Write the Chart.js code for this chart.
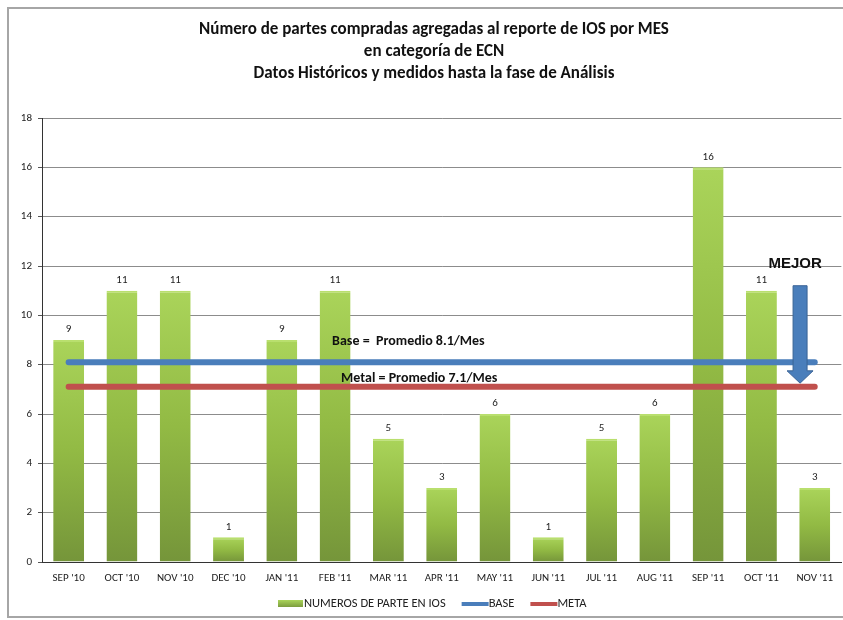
<!DOCTYPE html>
<html>
<head>
<meta charset="utf-8">
<script src="https://cdn.jsdelivr.net/npm/chart.js@4"></script>
<style>
  html, body { margin: 0; padding: 0; background: #fff; }
  #wrap { width: 843px; height: 620px; }
</style>
</head>
<body>
<div id="wrap"><canvas id="chart" width="843" height="620"></canvas></div>
<script>
const months = ["SEP '10", "OCT '10", "NOV '10", "DEC '10", "JAN '11", "FEB '11", "MAR '11", "APR '11",
                "MAY '11", "JUN '11", "JUL '11", "AUG '11", "SEP '11", "OCT '11", "NOV '11"];
const partes = [9, 11, 11, 1, 9, 11, 5, 3, 6, 1, 5, 6, 16, 11, 3];
const base = [8.1, 8.1, 8.1, 8.1, 8.1, 8.1, 8.1, 8.1, 8.1, 8.1, 8.1, 8.1, 8.1, 8.1, 8.1];
const meta = [7.1, 7.1, 7.1, 7.1, 7.1, 7.1, 7.1, 7.1, 7.1, 7.1, 7.1, 7.1, 7.1, 7.1, 7.1];
const titleLines = [
    'Número de partes compradas agregadas al reporte de IOS por MES',
    'en categoría de ECN',
    'Datos Históricos y medidos hasta la fase de Análisis'
];
const seriesNames = ['NUMEROS DE PARTE EN IOS', 'BASE', 'META'];

const FONT = "Carlito, 'Liberation Sans Narrow', 'DejaVu Sans Condensed', sans-serif";

// vertical shading for each bar: light lime on top, olive at the bottom
function barFill(ctx) {
    const chart = ctx.chart;
    const y = chart.scales.y;
    if (!y || ctx.dataIndex === undefined) return '#8fb23e';
    const top = y.getPixelForValue(ctx.raw);
    const bottom = y.getPixelForValue(0);
    if (!isFinite(top) || !isFinite(bottom) || bottom - top < 1) return '#8fb23e';
    const g = chart.ctx.createLinearGradient(0, top, 0, bottom);
    g.addColorStop(0, '#aad45a');
    g.addColorStop(0.5, '#92ba44');
    g.addColorStop(1, '#75953a');
    return g;
}

const decorations = {
    id: 'decorations',
    afterDatasetsDraw(chart) {
        const c = chart.ctx;
        const xs = chart.scales.x, ys = chart.scales.y;

        // value labels over the bars
        c.save();
        c.fillStyle = '#222';
        c.font = '11px ' + FONT;
        c.textAlign = 'center';
        c.textBaseline = 'bottom';
        chart.getDatasetMeta(0).data.forEach((bar, i) => {
            c.fillText(String(partes[i]), bar.x, bar.y - 5);
        });

        // average notes
        c.font = 'bold 14px ' + FONT;
        c.textAlign = 'left';
        c.textBaseline = 'middle';
        c.fillStyle = '#111';
        c.fillText('Base =  Promedio 8.1/Mes', xs.getPixelForValue(5) - 3, ys.getPixelForValue(base[0] + 0.85));
        c.fillText('Metal = Promedio 7.1/Mes', xs.getPixelForValue(5) + 6, ys.getPixelForValue(meta[0] + 0.33));

        // "MEJOR" arrow pointing down towards the target
        const ax = (xs.getPixelForValue(13) + xs.getPixelForValue(14)) / 2 + 12;
        const yTop = ys.getPixelForValue(11.2);
        const yNeck = ys.getPixelForValue(7.75);
        const yTip = ys.getPixelForValue(7.25);
        c.beginPath();
        c.moveTo(ax - 7, yTop);
        c.lineTo(ax + 7, yTop);
        c.lineTo(ax + 7, yNeck);
        c.lineTo(ax + 13, yNeck);
        c.lineTo(ax, yTip);
        c.lineTo(ax - 13, yNeck);
        c.lineTo(ax - 7, yNeck);
        c.closePath();
        c.fillStyle = '#4a7ebb';
        c.fill();
        c.strokeStyle = '#3a6396';
        c.lineWidth = 1;
        c.stroke();

        c.font = "bold 15px 'Liberation Sans', Arial, sans-serif";
        c.fillStyle = '#111';
        c.textAlign = 'center';
        c.fillText('MEJOR', ax - 5, ys.getPixelForValue(12.1));
        c.restore();
    },
    afterDraw(chart) {
        const c = chart.ctx;
        c.save();
        // outer frame
        c.strokeStyle = '#a6a6a6';
        c.lineWidth = 2;
        c.strokeRect(8, 8, 850, 609);

        // title
        c.fillStyle = '#111';
        c.font = 'bold 17px ' + FONT;
        c.textAlign = 'center';
        c.textBaseline = 'middle';
        titleLines.forEach((t, i) => c.fillText(t, 434, 30 + i * 22));

        // legend
        c.font = '12.5px ' + FONT;
        c.textAlign = 'left';
        const ly = 604;
        const g = c.createLinearGradient(0, ly - 4, 0, ly + 4);
        g.addColorStop(0, '#aad45a');
        g.addColorStop(1, '#75953a');
        c.fillStyle = g;
        c.fillRect(278, ly - 4, 25, 7);
        c.fillStyle = '#222';
        c.fillText(seriesNames[0], 304, ly);
        let x = 304 + c.measureText(seriesNames[0]).width + 16;
        [[seriesNames[1], '#4a7ebb'], [seriesNames[2], '#c0504d']].forEach(([name, col]) => {
            c.strokeStyle = col;
            c.lineWidth = 4;
            c.beginPath();
            c.moveTo(x, ly);
            c.lineTo(x + 27, ly);
            c.stroke();
            c.fillStyle = '#222';
            c.fillText(name, x + 27, ly);
            x += 27 + c.measureText(name).width + 16;
        });
        c.restore();
    }
};

new Chart(document.getElementById('chart'), {
    type: 'bar',
    data: {
        labels: months,
        datasets: [
            {
                type: 'bar',
                label: seriesNames[0],
                data: partes,
                backgroundColor: barFill,
                borderColor: '#b9df6e',
                borderWidth: { top: 2, left: 0, right: 0, bottom: 0 },
                borderSkipped: 'bottom',
                barPercentage: 0.58,
                categoryPercentage: 1,
                order: 3
            },
            {
                type: 'line',
                label: seriesNames[1],
                data: base,
                borderColor: '#4a7ebb',
                borderWidth: 6,
                borderCapStyle: 'round',
                pointRadius: 0,
                fill: false,
                order: 2
            },
            {
                type: 'line',
                label: seriesNames[2],
                data: meta,
                borderColor: '#c0504d',
                borderWidth: 6,
                borderCapStyle: 'round',
                pointRadius: 0,
                fill: false,
                order: 1
            }
        ]
    },
    options: {
        responsive: false,
        animation: false,
        layout: { padding: { left: 8, top: 118, right: 0, bottom: 38 } },
        plugins: {
            legend: { display: false },
            title: { display: false },
            tooltip: { enabled: false }
        },
        scales: {
            x: {
                grid: { display: false, drawTicks: false },
                border: { color: '#333', width: 1 },
                ticks: { color: '#222', font: { family: FONT, size: 11 }, padding: 10, maxRotation: 0, autoSkip: false },
                afterFit: s => { s.height = 20; }
            },
            y: {
                min: 0,
                max: 18,
                ticks: { stepSize: 2, color: '#222', font: { family: FONT, size: 11 }, padding: 6 },
                grid: { color: '#8c8c8c', lineWidth: 1, tickLength: 4, tickColor: '#555' },
                border: { color: '#333', width: 1 },
                afterFit: s => { s.width = 34; }
            }
        }
    },
    plugins: [decorations]
});
</script>
</body>
</html>
